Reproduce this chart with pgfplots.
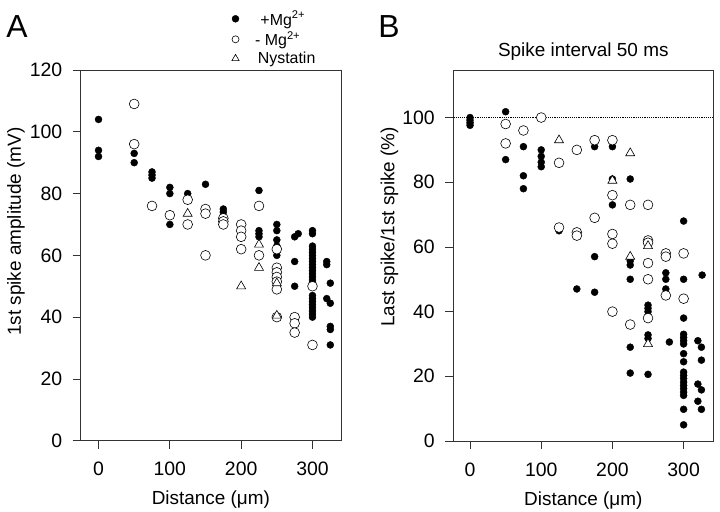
\documentclass[border=0pt]{standalone}
\usepackage{fontspec}
\setmainfont{Liberation Sans}
\usepackage{pgfplots}
\pgfplotsset{compat=1.18}
\begin{document}
\begin{tikzpicture}
\path[use as bounding box] (0,0) rectangle (720bp,512bp);
\pgfplotsset{
  panel/.style={
    scale only axis,
    anchor=south west,
    axis line style={line width=0.7bp, black!80},
    tick style={line width=0.7bp, black!80},
    tick align=outside,
    tick pos=left,
    major tick length=8bp,
    xtick={0,100,200,300},
    tick label style={font=\fontsize{19.5}{21}\selectfont},
    xticklabel style={yshift=-10bp},
    yticklabel style={xshift=-7bp},
    label style={font=\fontsize{19}{21}\selectfont},
    xlabel style={at={(axis description cs:0.5,-0.16)}, anchor=center},
    /pgf/number format/assume math mode=true,
    xlabel={Distance (μm)},
    ymin=0,
  },
  fil/.style={only marks, mark=*, mark size=3.5bp, mark options={fill=black, draw=black}},
  opn/.style={only marks, mark=*, mark size=4.9bp, mark options={fill=white, draw=black, line width=0.6bp}},
  tri/.style={only marks, mark=triangle*, mark size=5.2bp, mark options={fill=white, draw=black, line width=0.6bp}},
}
% Panel A
\begin{axis}[panel,
  at={(80.7bp,71.3bp)}, width=260.3bp, height=370.7bp,
  xmin=-25, xmax=340, ymax=120,
  ytick={0,20,...,120},
  ylabel={1st spike amplitude (mV)},
  ylabel style={at={(axis description cs:-0.249,0.564)}, anchor=center},
  legend style={at={(axis description cs:0.58,1.165)}, anchor=north west, draw=none, fill=none,
    font=\fontsize{16}{17}\selectfont, row sep=1bp, column sep=14bp, inner sep=0pt},
  legend cell align=left,
]
\addlegendimage{only marks, mark=*, mark size=3.5bp, mark options={fill=black}}
\addlegendentry{\,\,+Mg\textsuperscript{2+}}
\addlegendimage{only marks, mark=*, mark size=3.5bp, mark options={fill=white, draw=black, line width=0.6bp}}
\addlegendentry{- Mg\textsuperscript{2+}}
\addlegendimage{only marks, mark=triangle*, mark size=4.2bp, mark options={fill=white, draw=black, line width=0.6bp}}
\addlegendentry{\,Nystatin}
\addplot[fil, forget plot] coordinates {
(0,104) (0,94) (0,92)
(50,93) (50,90)
(75,87) (75,86) (75,85)
(100,82) (100,80) (100,70)
(125,80)
(150,83)
(175,75) (175,74)
(225,81) (225,68) (225,67) (225,66)
(250,70) (250,68) (250,65) (250,63) (250,60)
(275,66) (280,67) (275,58) (275,50)
(300,68) (300,67) (300,63) (300,62) (300,61) (300,60) (300,59) (300,58) (300,57) (300,56)
(300,55) (300,54) (300,53) (300,52) (300,51) (300,50) (300,47) (300,46) (300,45) (300,44)
(300,43) (300,42) (300,41) (300,40)
(320,58) (320,57) (325,51) (320,46) (325,44.5) (325,37) (325,36) (325,31)
};
\addplot[opn, forget plot] coordinates {
(50,109) (50,96)
(75,76)
(100,73)
(125,78) (125,70)
(150,75) (150,73.5) (150,60)
(175,72) (175,71) (175,70)
(200,70) (200,68) (200,66) (200,62)
(225,76) (225,60)
(250,62) (250,56) (250,54.5) (250,53) (250,51.5) (250,49) (250,40)
(275,40) (275,38) (275,35)
(300,50) (300,31)
};
\addplot[tri, forget plot] coordinates {
(125,73.5) (200,50) (225,63.5) (225,56) (250,51) (250,40.5)
};
\end{axis}
% Panel B
\begin{axis}[panel,
  at={(453.3bp,71bp)}, width=260bp, height=371bp,
  xmin=-23.5, xmax=341.7, ymax=114.7,
  ytick={0,20,...,100},
  ylabel={Last spike/1st spike (\%)},
  ylabel style={at={(axis description cs:-0.245,0.577)}, anchor=center},
  title={Spike interval 50 ms},
  title style={font=\fontsize{19}{20}\selectfont},
]
\addplot[densely dotted, line width=1.2bp, forget plot] coordinates {(-23.5,100) (341.7,100)};
\addplot[fil] coordinates {
(0,100) (0,99.2) (0,98.4) (0,97.6)
(50,101.8) (50,87)
(75,91) (75,82) (75,78)
(100,90) (100,88) (100,86.2) (100,84.8)
(125,65)
(150,47)
(175,91) (175,57) (175,46)
(200,91) (200,81) (200,73)
(225,81) (225,55.7) (225,54.4) (225,50) (225,29) (225,21)
(250,42) (250,41) (250,40) (250,32.8) (250,31.7) (250,20.6)
(275,52) (275,50) (275,47) (280,30.6)
(300,68) (300,50) (300,38) (300,33) (300,32) (300,31) (300,30) (300,27) (300,24.5)
(300,21.3) (300,20.3) (300,19.3) (300,18.2) (300,17.2) (300,16.2) (300,15.1) (300,14.1)
(300,9.8) (300,5)
(326,51.3) (320,31) (325,29) (325,25) (320,17.6) (325,15.8) (320,12.3) (325,9.8)
};
\addplot[opn] coordinates {
(50,98) (50,92)
(75,96)
(100,100)
(125,86) (125,66)
(150,90) (150,64.5) (150,63.5)
(175,93) (175,69)
(200,93) (200,76) (200,64) (200,61) (200,40)
(225,73) (225,36)
(250,73) (250,62) (250,61.3) (250,55) (250,50) (250,38)
(275,58) (275,57) (275,45)
(300,58) (300,44)
};
\addplot[tri] coordinates {
(125,93) (200,80.5) (225,89) (225,57) (250,60.3) (250,30)
};
\end{axis}
\node[font=\fontsize{32}{32}\selectfont] at (17bp,485bp) {A};
\node[font=\fontsize{32}{32}\selectfont] at (389bp,485bp) {B};
\end{tikzpicture}
\end{document}
